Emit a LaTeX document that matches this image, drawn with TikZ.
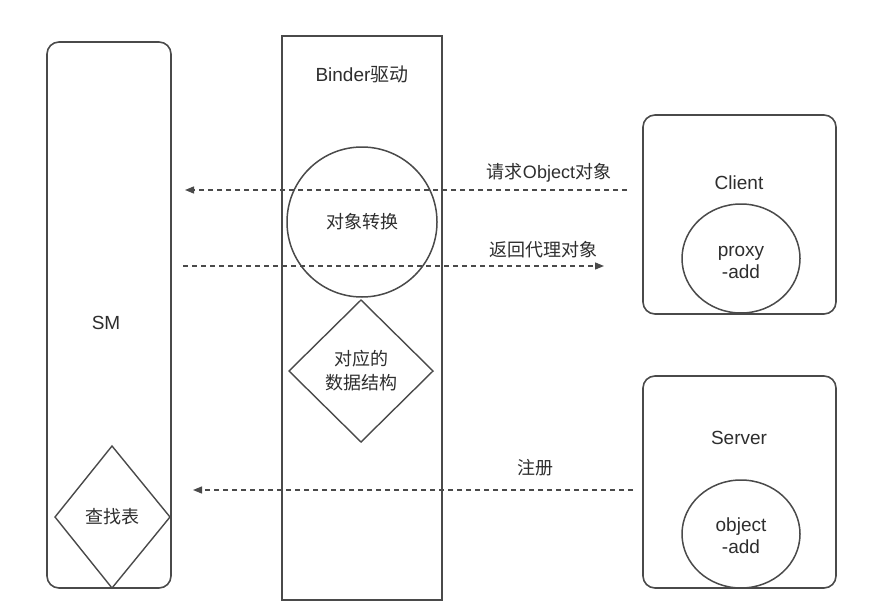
\documentclass[tikz,border=0pt]{standalone}
\usepackage{fontspec}
\setmainfont{Liberation Sans}
\newfontfamily\cjk{Noto Sans CJK SC}
\usetikzlibrary{shapes.geometric,arrows.meta}
\definecolor{ln}{HTML}{4A4A4A}
\definecolor{tx}{HTML}{2E2E2E}
\begin{document}
\begin{tikzpicture}[x=1pt,y=-1pt,
  box/.style={draw=ln,line width=1.6pt,rounded corners=12pt},
  sqbox/.style={draw=ln,line width=1.6pt},
  circ/.style={draw=ln,line width=1.5pt,ellipse,inner sep=0pt},
  lbl/.style={text=tx,font=\fontsize{19}{22}\selectfont,align=center},
  msg/.style={draw=ln,line width=1.3pt,dash pattern=on 5pt off 4pt,-{Triangle[length=9pt,width=7pt]}}
]
\useasboundingbox (0,0) rectangle (874,610);
\fill[white] (0,0) rectangle (874,610);
% SM
\draw[box] (47,42) rectangle (171,588);
\node[lbl] (sm) at (106,323) {SM};
% Binder
\draw[sqbox] (282,36) rectangle (442,600);
\node[lbl] (binder) at (362,74) {Binder{\cjk 驱动}};
\node[circ,minimum width=150pt,minimum height=150pt] (conv) at (362,222) {};
\node[lbl,font=\fontsize{18}{21}\selectfont\cjk] at (conv) {对象转换};
\draw[ln,line width=1.4pt] (361,300) -- (433,371) -- (361,442) -- (289,371) -- cycle;
\node[lbl,font=\fontsize{18}{24}\selectfont\cjk] (ds) at (361,371) {对应的\\数据结构};
% lookup table
\draw[ln,line width=1.4pt] (112,446) -- (170,517) -- (112,588) -- (55,517) -- cycle;
\node[lbl,font=\fontsize{18}{21}\selectfont\cjk] (lut) at (112,517) {查找表};
% Client
\draw[box] (643,115) rectangle (836,314);
\node[lbl] (client) at (739,183) {Client};
\node[circ,minimum width=118pt,minimum height=109pt] (proxy) at (741,258.5) {};
\node[lbl,font=\fontsize{19}{22}\selectfont] at (741,262) {proxy\\-add};
% Server
\draw[box] (643,376) rectangle (836,588);
\node[lbl] (server) at (739,438) {Server};
\node[circ,minimum width=118pt,minimum height=108pt] (obj) at (741,534) {};
\node[lbl,font=\fontsize{19}{22}\selectfont] at (741,536) {object\\-add};
% arrows
\coordinate (a1s) at (627,190); \coordinate (a1e) at (185,190);
\coordinate (a2s) at (183,266); \coordinate (a2e) at (604,266);
\coordinate (a3s) at (633,490); \coordinate (a3e) at (193,490);
\draw[msg] (a1s) -- (a1e);
\draw[msg] (a2s) -- (a2e);
\draw[msg] (a3s) -- (a3e);
\node[lbl,font=\fontsize{18}{21}\selectfont] (l1) at (549,173) {{\cjk 请求}Object{\cjk 对象}};
\node[lbl,font=\fontsize{18}{21}\selectfont\cjk] (l2) at (543,250) {返回代理对象};
\node[lbl,font=\fontsize{18}{21}\selectfont\cjk] (l3) at (535,468) {注册};
\end{tikzpicture}
\end{document}
